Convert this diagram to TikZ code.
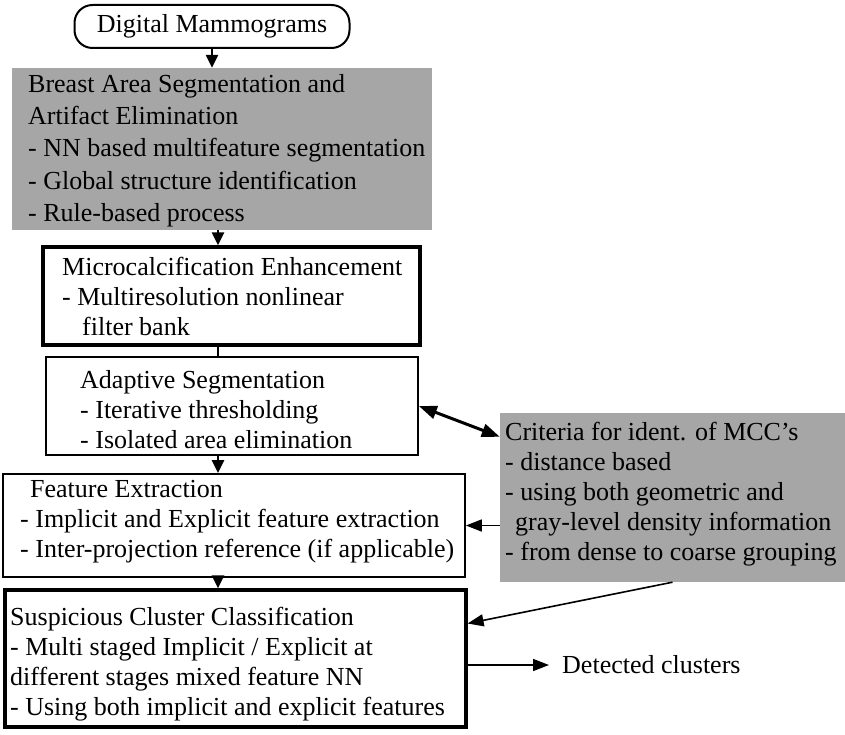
\documentclass[tikz,border=0pt]{standalone}
\usepackage{fontspec}
\setmainfont{Liberation Serif}
\usetikzlibrary{positioning,arrows.meta}

\begin{document}
\begin{tikzpicture}[x=1pt,y=-1pt,
every node/.append style={font=\fontsize{26}{30}\selectfont},
stagebox/.style={draw=black,line width=1.7pt,inner sep=0pt},
heavybox/.style={stagebox,line width=3.2pt},
shadebox/.style={fill=black!35,inner sep=0pt},
stagetext/.style={anchor=north west,align=left,inner sep=0pt},
flow/.style={line width=2.4pt,-{Triangle[length=13pt,width=12pt]}},
feed/.style={line width=1.6pt,-{Triangle[length=16pt,width=12pt]}}]
\useasboundingbox (0,0) rectangle (845,735);
\node [stagebox,line width=2pt,rounded corners=18pt,minimum width=275,minimum height=43] (mamm) at (212,26.5) {Digital Mammograms};
\node [shadebox,minimum width=420,minimum height=162] (seg) at (222,149) {};
\node [stagetext,font=\fontsize{26}{32.3}\selectfont] (segtext) at (28,74) {Breast Area Segmentation and\\Artifact Elimination\\- NN based multifeature segmentation\\- Global structure identification\\- Rule-based process};
\node [heavybox,minimum width=377,minimum height=98] (enh) at (231.5,296) {};
\node [stagetext] (enhtext) at (62,257) {Microcalcification Enhancement\\- Multiresolution nonlinear\\\hspace*{20pt}filter bank};
\node [stagebox,minimum width=372,minimum height=98] (adap) at (232,406) {};
\node [stagetext] (adaptext) at (80,370) {Adaptive Segmentation\\- Iterative thresholding\\- Isolated area elimination};
\node [stagebox,minimum width=462,minimum height=103] (feat) at (234,525.5) {};
\node [stagetext] (feattext) at (20,480) {\hspace*{10pt}Feature Extraction\\- Implicit and Explicit feature extraction\\- Inter-projection reference (if applicable)};
\node [heavybox,minimum width=461,minimum height=137] (susp) at (235.5,658.5) {};
\node [stagetext] (susptext) at (10,607) {Suspicious Cluster Classification\\- Multi staged Implicit / Explicit at\\different stages mixed feature NN\\- Using both implicit and explicit features};
\node [shadebox,minimum width=345,minimum height=169] (crit) at (672.5,497.5) {};
\node [stagetext] (crittext) at (505,422) {Criteria for ident. of MCC's\\- distance based\\- using both geometric and\\\hspace*{10pt}gray-level density information\\- from dense to coarse grouping};
\node [anchor=west,inner sep=0pt,inner xsep=13pt] (det) at (549,665) {Detected clusters};
\coordinate (spine) at (218,0);
\draw [flow] (mamm.south) -- (mamm.south |- seg.north);
\draw [flow] (seg.south -| spine) -- (enh.north -| spine);
\draw [line width=2.4pt] (enh.south -| spine) -- (adap.north -| spine);
\draw [flow] (adap.south -| spine) -- (feat.north -| spine);
\draw [flow] (feat.south -| spine) -- (susp.north -| spine);
\draw [line width=3pt,{Triangle[length=18pt,width=13pt]}-{Triangle[length=18pt,width=13pt]}] (adap.east) -- ([yshift=-24pt]crit.north west);
\draw [feed] (crit.west |- feat.east) -- (feat.east);
\draw [feed] (crit.south) -- ([yshift=35pt]susp.east);
\draw [feed] (susp.east |- det.west) -- (det.west);
\end{tikzpicture}
\end{document}
